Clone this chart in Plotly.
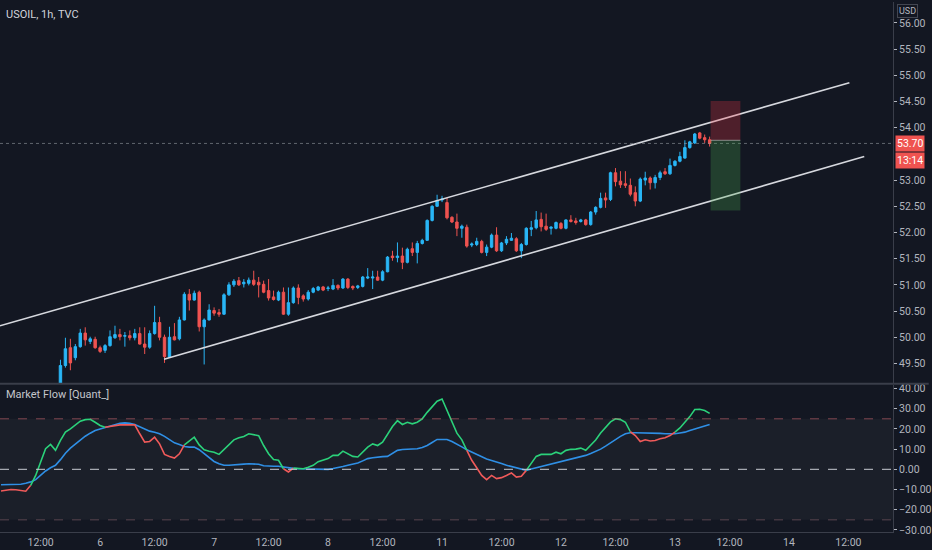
import plotly.graph_objects as go

# ---------------- data ----------------
bar_index = list(range(12, 144))
opens = [49.05, 49.46, 49.80, 49.61, 49.82, 50.08, 49.92, 49.96, 49.80, 49.75,
         49.84, 49.99, 50.05, 50.02, 50.03, 49.99, 50.07, 49.87, 49.81, 50.07,
         50.28, 50.00, 49.62, 50.01, 49.97, 50.33, 50.82, 50.71, 50.86, 50.20,
         50.33, 50.51, 50.47, 50.44, 50.81, 51.00, 51.08, 51.02, 51.03, 51.09,
         51.05, 51.01, 50.89, 50.77, 50.71, 50.86, 50.44, 50.66, 50.94, 50.79,
         50.73, 50.86, 50.90, 50.96, 50.93, 50.92, 50.99, 50.94, 51.11, 50.97,
         50.95, 50.97, 51.13, 51.13, 51.15, 51.09, 51.25, 51.55, 51.52, 51.55,
         51.43, 51.69, 51.62, 51.79, 51.85, 52.23, 52.50, 52.62, 52.57, 52.29,
         52.20, 52.08, 52.10, 51.76, 51.77, 51.83, 51.62, 51.72, 51.95, 51.65,
         51.80, 51.85, 51.88, 51.65, 51.77, 52.06, 52.09, 52.25, 52.12, 52.08,
         52.08, 52.17, 52.08, 52.24, 52.22, 52.21, 52.24, 52.15, 52.39, 52.48,
         52.66, 52.63, 53.14, 52.98, 52.93, 52.90, 52.76, 52.60, 53.00, 53.04,
         52.95, 53.05, 53.16, 53.12, 53.28, 53.36, 53.42, 53.62, 53.71, 53.90,
         53.81, 53.77]
highs = [49.57, 49.99, 49.97, 49.87, 50.16, 50.19, 50.01, 50.01, 49.84, 49.87,
         50.13, 50.22, 50.16, 50.10, 50.13, 50.16, 50.19, 50.19, 50.13, 50.60,
         50.39, 50.05, 50.20, 50.27, 50.39, 50.86, 50.92, 50.89, 50.89, 50.36,
         50.63, 50.57, 50.54, 50.84, 51.05, 51.11, 51.15, 51.11, 51.14, 51.27,
         51.15, 51.08, 51.11, 50.89, 50.89, 50.95, 50.95, 50.97, 51.01, 50.82,
         50.90, 50.96, 50.98, 50.98, 50.98, 51.11, 51.01, 51.13, 51.13, 50.99,
         51.00, 51.17, 51.32, 51.27, 51.27, 51.28, 51.55, 51.65, 51.81, 51.71,
         51.71, 51.81, 51.84, 51.88, 52.25, 52.52, 52.72, 52.70, 52.66, 52.31,
         52.36, 52.15, 52.15, 51.81, 51.90, 51.86, 51.77, 51.98, 52.10, 51.82,
         51.93, 51.99, 51.91, 51.80, 52.10, 52.22, 52.41, 52.38, 52.36, 52.12,
         52.21, 52.20, 52.25, 52.33, 52.28, 52.26, 52.26, 52.41, 52.50, 52.76,
         52.76, 53.16, 53.23, 53.17, 53.17, 53.03, 52.88, 53.05, 53.16, 53.07,
         53.10, 53.18, 53.23, 53.41, 53.38, 53.54, 53.76, 53.75, 53.90, 53.92,
         53.87, 53.83]
lows = [48.95, 49.42, 49.37, 49.56, 49.80, 49.84, 49.87, 49.78, 49.70, 49.70,
        49.82, 49.97, 49.94, 49.82, 49.94, 49.94, 49.86, 49.68, 49.78, 50.05,
        49.94, 49.51, 49.61, 49.94, 49.94, 50.32, 50.51, 50.70, 50.11, 49.48,
        50.32, 50.41, 50.39, 50.43, 50.79, 50.96, 50.98, 50.95, 50.99, 50.98,
        50.76, 50.84, 50.70, 50.70, 50.69, 50.43, 50.41, 50.64, 50.63, 50.68,
        50.70, 50.84, 50.88, 50.88, 50.88, 50.90, 50.90, 50.92, 50.92, 50.90,
        50.92, 50.95, 51.11, 50.92, 51.08, 51.07, 51.24, 51.46, 51.43, 51.30,
        51.41, 51.55, 51.41, 51.77, 51.84, 52.21, 52.49, 52.58, 52.25, 52.18,
        51.93, 51.90, 51.71, 51.72, 51.74, 51.60, 51.55, 51.70, 51.63, 51.63,
        51.76, 51.84, 51.63, 51.51, 51.75, 51.93, 52.06, 52.02, 52.03, 51.96,
        52.06, 52.06, 52.06, 52.19, 52.15, 52.19, 52.13, 52.13, 52.34, 52.46,
        52.47, 52.60, 52.88, 52.85, 52.85, 52.69, 52.50, 52.58, 52.90, 52.82,
        52.84, 53.00, 53.10, 53.10, 53.26, 53.34, 53.41, 53.60, 53.69, 53.78,
        53.71, 53.64]
closes = [49.46, 49.78, 49.51, 49.82, 50.08, 49.95, 49.97, 49.80, 49.73, 49.84,
          50.01, 50.05, 50.01, 50.03, 49.99, 50.07, 49.87, 49.81, 50.07, 50.28,
          50.00, 49.63, 50.00, 49.95, 50.33, 50.82, 50.71, 50.84, 50.20, 50.33,
          50.52, 50.46, 50.44, 50.81, 51.00, 51.07, 51.00, 51.05, 51.09, 51.01,
          51.00, 50.86, 50.75, 50.72, 50.86, 50.44, 50.66, 50.94, 50.76, 50.73,
          50.86, 50.93, 50.96, 50.90, 50.94, 50.99, 50.94, 51.11, 50.95, 50.94,
          50.98, 51.15, 51.15, 51.15, 51.09, 51.25, 51.53, 51.52, 51.55, 51.43,
          51.68, 51.62, 51.79, 51.85, 52.23, 52.50, 52.61, 52.64, 52.28, 52.20,
          52.08, 52.12, 51.74, 51.78, 51.83, 51.62, 51.72, 51.95, 51.65, 51.80,
          51.87, 51.89, 51.65, 51.77, 52.08, 52.09, 52.24, 52.11, 52.06, 52.10,
          52.19, 52.08, 52.24, 52.21, 52.19, 52.24, 52.15, 52.39, 52.48, 52.65,
          52.62, 53.14, 52.97, 52.91, 52.90, 52.73, 52.60, 53.02, 53.04, 52.95,
          53.05, 53.14, 53.12, 53.28, 53.36, 53.45, 53.62, 53.73, 53.88, 53.80,
          53.77, 53.70]

flow_index = list(range(0, 144))
flow_fast = [-10.7, -10.4, -10.0, -10.1, -10.3, -10.8, -7.9, -3.0, 3.6, 10.2,
             12.3, 9.4, 14.3, 18.4, 20.0, 21.7, 23.8, 24.6, 24.8, 23.3,
             21.7, 20.8, 21.3, 21.8, 22.0, 22.0, 22.0, 22.0, 17.6, 13.5,
             13.8, 15.9, 12.6, 7.4, 6.4, 5.6, 7.7, 12.1, 13.8, 15.9,
             12.1, 9.7, 9.0, 8.5, 7.4, 9.7, 12.3, 14.6, 15.6, 16.3,
             17.6, 17.2, 16.7, 11.8, 7.7, 4.9, 4.5, 0.3, -1.3, 0.6,
             0.5, 0.3, 1.0, 2.0, 3.8, 4.5, 5.3, 6.9, 6.9, 9.0,
             7.7, 6.4, 6.1, 8.5, 11.0, 12.6, 11.8, 13.5, 17.6, 21.2,
             24.1, 22.2, 23.3, 22.5, 23.3, 25.0, 28.2, 31.0, 33.7, 34.8,
             29.1, 23.3, 17.9, 14.6, 9.4, 4.5, 0.8, -3.0, -5.1, -3.0,
             -4.6, -4.1, -3.0, -1.8, -3.8, -3.4, -0.5, 3.1, 6.4, 7.4,
             7.4, 7.4, 8.5, 7.7, 9.4, 9.9, 10.0, 10.5, 9.4, 11.8,
             14.5, 18.0, 20.5, 23.5, 25.0, 24.6, 23.3, 18.6, 16.7, 13.8,
             14.6, 14.0, 14.3, 15.1, 15.6, 16.7, 18.4, 20.5, 23.3, 26.1,
             29.6, 29.7, 29.1, 27.7]
flow_slow = [-7.6, -7.6, -7.6, -7.5, -7.4, -6.9, -6.2, -5.1, -3.0, -0.8,
             0.8, 2.0, 4.8, 8.0, 10.5, 12.6, 14.6, 16.4, 17.9, 19.2,
             20.0, 20.8, 21.5, 22.3, 22.8, 23.0, 22.8, 22.2, 21.2, 20.0,
             18.9, 18.4, 17.6, 16.3, 14.8, 13.1, 12.3, 11.3, 11.0, 11.0,
             9.7, 7.7, 5.7, 3.9, 2.8, 2.0, 2.0, 2.3, 2.5, 2.6,
             2.8, 2.8, 2.5, 1.8, 1.5, 1.5, 1.5, 1.1, 0.8, 0.5,
             0.3, 0.2, 0.1, 0.0, 0.0, 0.0, 0.0, 0.4, 0.8, 1.4,
             2.0, 2.6, 3.1, 4.2, 5.3, 5.7, 6.1, 6.3, 6.4, 8.0,
             9.4, 9.8, 10.0, 10.1, 10.2, 10.8, 11.8, 13.3, 14.8, 14.8,
             14.8, 13.8, 12.6, 11.1, 9.7, 8.5, 7.4, 6.2, 5.1, 4.4,
             3.8, 2.9, 2.0, 1.4, 0.8, 0.1, -0.5, 0.2, 0.8, 1.6,
             2.3, 2.9, 3.4, 4.0, 4.5, 5.0, 5.6, 6.2, 6.9, 7.8,
             8.8, 10.0, 11.5, 13.2, 14.8, 16.3, 17.6, 18.1, 18.1, 18.1,
             18.1, 18.0, 17.9, 17.8, 17.6, 17.6, 17.6, 18.0, 18.4, 19.2,
             20.0, 20.8, 21.7, 22.2]

tick_pos = [8, 20, 31, 43, 54, 66, 77, 89, 101, 113, 124, 136, 147, 159, 171]
tick_text = ["12:00", "6", "12:00", "7", "12:00", "8", "12:00", "11",
             "12:00", "12", "12:00", "13", "12:00", "14", "12:00"]

# price-scale labels visible in the reference (53.50 is hidden behind the price tags)
price_ticks = [49.5, 50.0, 50.5, 51.0, 51.5, 52.0, 52.5, 53.0, 54.0, 54.5, 55.0, 55.5, 56.0]
flow_ticks = [-30, -20, -10, 0, 10, 20, 30, 40]

channel_upper_x = [-0.2, 171.2]
channel_upper_y = [50.22, 54.86]
channel_lower_x = [32.9, 174.2]
channel_lower_y = [49.58, 53.45]

position_x = [143.2, 149.2]
position_stop = 54.51
position_entry = 53.76
position_target = 52.42
last_price = 53.70
countdown = "13:14"

# ---------------- styles ----------------
BG = "#131722"
BLUE = "#29b6f6"
RED = "#ef5350"
GREEN_LINE = "#2bd17a"
RED_LINE = "#f05a5a"
SLOW_LINE = "#2f8fe5"
TXT = "#b2b5be"
AX = "#3a3e4a"
FONT = "Roboto"

fig = go.Figure()

fig.add_trace(go.Candlestick(
    x=bar_index, open=opens, high=highs, low=lows, close=closes,
    increasing=dict(line=dict(color=BLUE, width=1), fillcolor=BLUE),
    decreasing=dict(line=dict(color=RED, width=1), fillcolor=RED),
    whiskerwidth=0, showlegend=False, hoverinfo="skip",
    xaxis="x", yaxis="y"))

for cx, cy in [(channel_upper_x, channel_upper_y), (channel_lower_x, channel_lower_y)]:
    fig.add_trace(go.Scatter(x=cx, y=cy, mode="lines",
                             line=dict(color="#d6d8de", width=1.6),
                             showlegend=False, hoverinfo="skip",
                             xaxis="x", yaxis="y"))

# slow line
fig.add_trace(go.Scatter(x=flow_index, y=flow_slow, mode="lines",
                         line=dict(color=SLOW_LINE, width=1.6),
                         showlegend=False, hoverinfo="skip",
                         xaxis="x", yaxis="y2"))

# fast line coloured by position relative to slow line
n = len(flow_index)
ups = [(flow_fast[k] + flow_fast[k + 1]) >= (flow_slow[k] + flow_slow[k + 1]) for k in range(n - 1)]
start = 0
for k in range(1, n):
    if k == n - 1 or ups[k] != ups[start]:
        seg = slice(start, k + 1)
        fig.add_trace(go.Scatter(x=flow_index[seg], y=flow_fast[seg], mode="lines",
                                 line=dict(color=GREEN_LINE if ups[start] else RED_LINE, width=1.6),
                                 showlegend=False, hoverinfo="skip",
                                 xaxis="x", yaxis="y2"))
        start = k

shapes = [
    # indicator band
    dict(type="rect", xref="paper", yref="y2", x0=0, x1=1, y0=-25, y1=25,
         fillcolor="rgba(255,255,255,0.035)", line=dict(width=0), layer="below"),
    dict(type="line", xref="paper", yref="y2", x0=0, x1=1, y0=25, y1=25,
         line=dict(color="rgba(220,110,120,0.55)", width=1, dash="dash")),
    dict(type="line", xref="paper", yref="y2", x0=0, x1=1, y0=-25, y1=-25,
         line=dict(color="rgba(170,120,130,0.45)", width=1, dash="dash")),
    dict(type="line", xref="paper", yref="y2", x0=0, x1=1, y0=0, y1=0,
         line=dict(color="rgba(200,202,210,0.8)", width=1.2, dash="dash")),
    # pane divider
    dict(type="line", xref="paper", yref="paper", x0=0, x1=1.04, y0=0.2795, y1=0.2795,
         line=dict(color="#3a3e4a", width=2)),
    # last price line
    dict(type="line", xref="paper", yref="y", x0=0, x1=1, y0=last_price, y1=last_price,
         line=dict(color="rgba(160,165,175,0.55)", width=1, dash="dot")),
    # position box
    dict(type="rect", xref="x", yref="y", x0=position_x[0], x1=position_x[1],
         y0=position_entry, y1=position_stop,
         fillcolor="rgba(242,54,69,0.27)", line=dict(width=0)),
    dict(type="rect", xref="x", yref="y", x0=position_x[0], x1=position_x[1],
         y0=position_target, y1=position_entry,
         fillcolor="rgba(76,175,80,0.27)", line=dict(width=0)),
    dict(type="line", xref="x", yref="y", x0=position_x[0], x1=position_x[1],
         y0=position_entry, y1=position_entry,
         line=dict(color="rgba(200,200,200,0.6)", width=1)),
]

annotations = [
    dict(text="USOIL, 1h, TVC", xref="paper", yref="paper", x=0.005, y=1,
         xanchor="left", yanchor="top", yshift=-4, showarrow=False,
         font=dict(family=FONT, size=11, color="#d1d4dc")),
    dict(text="Market Flow [Quant_]", xref="paper", yref="paper", x=0.005, y=0.2594,
         xanchor="left", yanchor="middle", showarrow=False,
         font=dict(family=FONT, size=11, color="#c4c6cc")),
    dict(text="USD", xref="paper", yref="paper", x=1.0166, y=0.983,
         xanchor="center", yanchor="middle", showarrow=False,
         bordercolor="#434651", borderwidth=1, borderpad=1, bgcolor=BG,
         font=dict(family=FONT, size=9, color=TXT)),
    dict(text="%.2f" % last_price, xref="paper", yref="y", x=1.002, y=last_price,
         xanchor="left", yanchor="middle", showarrow=False,
         bgcolor=RED, borderpad=1,
         font=dict(family=FONT, size=10.5, color="#ffffff")),
    dict(text=countdown, xref="paper", yref="y", x=1.002, y=last_price, yshift=-17,
         xanchor="left", yanchor="middle", showarrow=False,
         bgcolor=RED, borderpad=1,
         font=dict(family=FONT, size=10.5, color="#ffffff")),
]

fig.update_layout(
    width=932, height=550,
    margin=dict(l=0, r=31, t=0, b=18),
    paper_bgcolor=BG, plot_bgcolor=BG,
    font=dict(family=FONT, size=11, color=TXT),
    showlegend=False,
    shapes=shapes, annotations=annotations,
    xaxis=dict(domain=[0, 1], anchor="y2", range=[-0.2, 180],
               tickvals=tick_pos, ticktext=tick_text,
               showgrid=False, zeroline=False, showline=True, linecolor=AX,
               ticks="", tickfont=dict(size=10.5, color=TXT),
               rangeslider=dict(visible=False), fixedrange=True),
    yaxis=dict(domain=[0.2805, 1], anchor="x", side="right", range=[49.12, 56.40],
               tickvals=price_ticks, ticktext=["%.2f" % v for v in price_ticks],
               showgrid=False, zeroline=False, showline=True, linecolor=AX,
               ticks="outside", ticklen=3, tickcolor=TXT,
               tickfont=dict(size=10.5, color=TXT)),
    yaxis2=dict(domain=[0, 0.278], anchor="x", side="right", range=[-31.0, 41.9],
                tickvals=flow_ticks, tickformat=".2f", ticklabeloverflow="allow",
                showgrid=False, zeroline=False, showline=True, linecolor=AX,
                ticks="outside", ticklen=3, tickcolor=TXT,
                tickfont=dict(size=10.5, color=TXT)),
)

fig.write_html("out.html", config=dict(displayModeBar=False),
               post_script="document.body.style.margin='0';document.body.style.background='#131722';")
